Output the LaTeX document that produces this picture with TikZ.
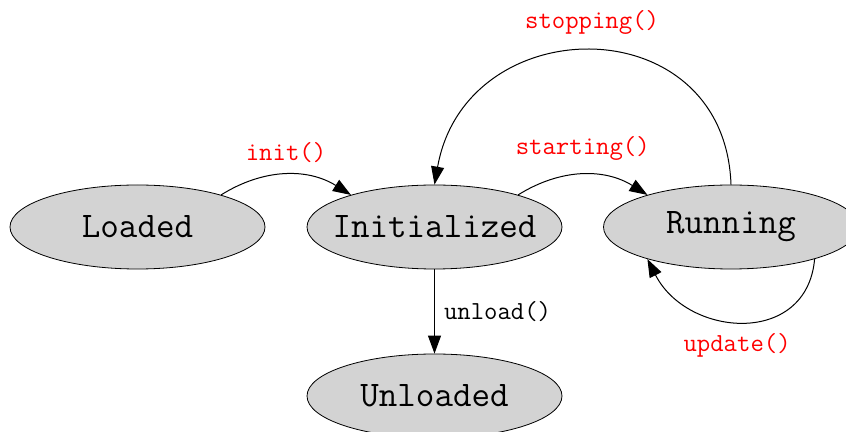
\documentclass[tikz,border=0pt]{standalone}
\usepackage{tikz}
\usetikzlibrary{arrows.meta,shapes.geometric}
\definecolor{stategray}{RGB}{211,211,211}

\begin{document}
\begin{tikzpicture}[
      state/.style={ellipse,draw=black,fill=stategray,inner sep=0pt,
        minimum width=127.5pt,minimum height=42pt,font=\fontsize{18}{20}\selectfont\ttfamily},
      tr/.style={-{Triangle[length=9pt,width=6.5pt]},line width=0.5pt},
      lbl/.style={font=\fontsize{13}{15}\selectfont\ttfamily,inner sep=0pt,text=red},
      x=0.5pt,y=-0.5pt]
    \useasboundingbox (0,0) rectangle (846,432);
    \node[state] (L) at (137.5,227) {Loaded};
    \node[state,inner xsep=-8pt] (I) at (434.5,227) {Initialized};
    \node[state] (R) at (731,227) {Running};
    \node[state] (U) at (434.5,396) {Unloaded};
    \draw[tr] (L.21) to[bend left=32] node[lbl,midway,above=6pt]{init()} (I.159);
    \draw[tr] (I.21) to[bend left=32] node[lbl,midway,above=7pt]{starting()} (R.159);
    \draw[tr] (R.north) to[out=92,in=80,looseness=1.55] node[lbl,pos=0.5,above=8pt]{stopping()} (I.north);
    \draw[tr] (R.-21) to[out=-95,in=-63,looseness=1.35] node[lbl,pos=0.5,below=6pt,xshift=-3pt]{update()} (R.-159);
    \draw[tr] (I) -- (U) node[lbl,midway,right=4.5pt,text=black]{unload()};
  \end{tikzpicture}
\end{document}
